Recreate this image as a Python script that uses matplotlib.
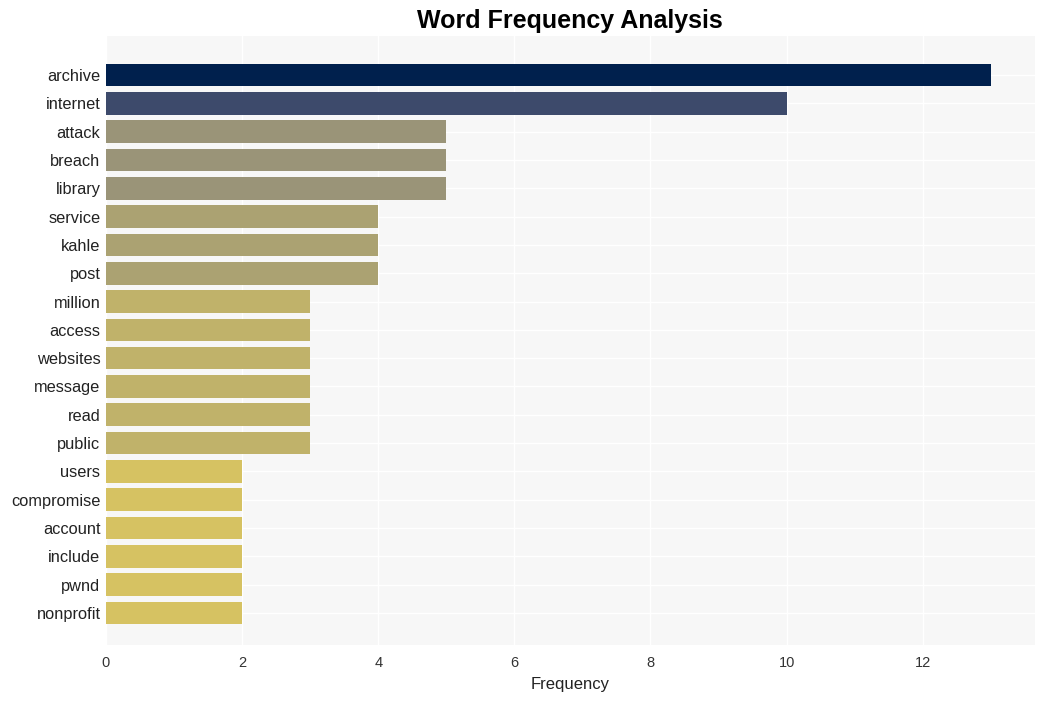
import matplotlib.pyplot as plt

# Data
words = ['archive', 'internet', 'attack', 'breach', 'library', 'service', 'kahle', 'post',
         'million', 'access', 'websites', 'message', 'read', 'public', 'users', 'compromise',
         'account', 'include', 'pwnd', 'nonprofit']
counts = [13, 10, 5, 5, 5, 4, 4, 4, 3, 3, 3, 3, 3, 3, 2, 2, 2, 2, 2, 2]

# colour per frequency level
level_colors = {13: '#00204d', 10: '#3d4a6b', 5: '#9a9478', 4: '#aba272', 3: '#c0b26a', 2: '#d6c262'}
colors = [level_colors[c] for c in counts]

plt.rcParams['font.family'] = ['Liberation Sans', 'DejaVu Sans']

fig = plt.figure(figsize=(10.45, 7.01), dpi=100)
ax = fig.add_axes([106 / 1045, 1 - 645 / 701, (1035 - 106) / 1045, (645 - 36) / 701])
ax.set_facecolor('#f7f7f7')

pos = list(range(len(words)))
ax.barh(pos, counts, height=0.8, color=colors, zorder=2)
ax.set_yticks(pos)
ax.set_yticklabels(words, fontsize=11.8, color='#222222')
ax.set_ylim(19 + 32 / 28.32, -39 / 28.32)
ax.set_xlim(0, 13.65)
ax.set_xticks([0, 2, 4, 6, 8, 10, 12])
ax.tick_params(axis='x', labelsize=10.5, colors='#333333', length=0, pad=8)
ax.tick_params(axis='y', length=0, pad=4)
ax.grid(True, color='white', linewidth=1, zorder=0)
for s in ax.spines.values():
    s.set_visible(False)

ax.set_xlabel('Frequency', fontsize=12, color='#222222', labelpad=5)
fig.text(570 / 1045, 1 - 21 / 701, 'Word Frequency Analysis', ha='center', va='center',
         fontsize=18, fontweight='bold')

fig.savefig('out.png', dpi=100)
